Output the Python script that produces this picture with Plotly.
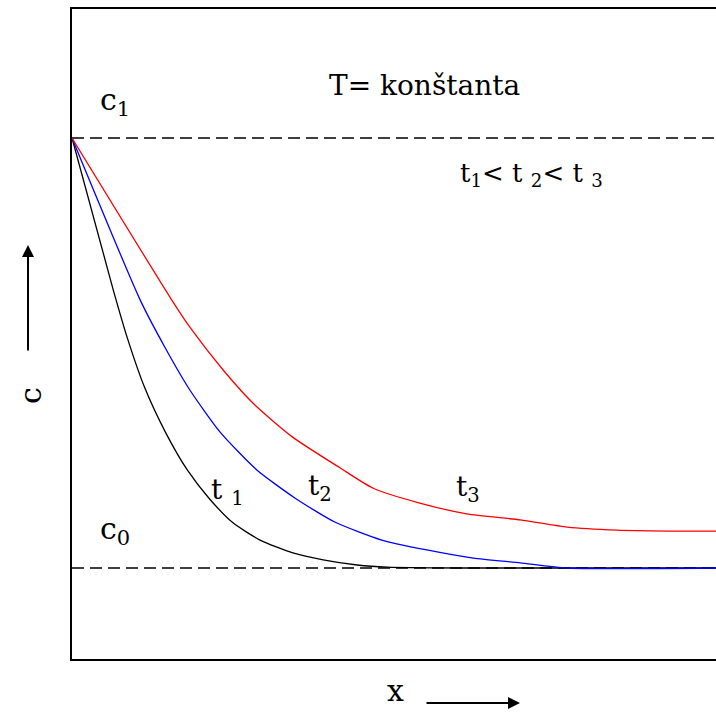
import plotly.graph_objects as go

# Concentration profiles c(x) at constant temperature for three times t1 < t2 < t3
x_t1 = [0, 0.64, 0.87, 1.13, 1.45, 1.79, 2.14, 2.50, 2.92, 3.43, 3.90, 4.43, 4.90, 6.0, 10.0]
c_t1 = [1.0, 0.647, 0.530, 0.419, 0.316, 0.228, 0.160, 0.105, 0.065, 0.035, 0.019, 0.007, 0.002, 0.0, 0.0]

x_t2 = [0, 1.06, 1.44, 1.83, 2.30, 2.87, 3.46, 4.08, 4.81, 5.51, 6.23, 6.96, 7.69, 10.0]
c_t2 = [1.0, 0.623, 0.514, 0.414, 0.316, 0.228, 0.163, 0.107, 0.065, 0.042, 0.023, 0.012, 0.0, 0.0]

x_t3 = [0, 1.55, 1.83, 2.35, 2.84, 3.42, 4.16, 4.67, 5.40, 6.13, 6.96, 7.69, 8.46, 9.24, 10.0]
c_t3 = [1.0, 0.623, 0.560, 0.460, 0.379, 0.305, 0.233, 0.186, 0.151, 0.126, 0.112, 0.095, 0.088, 0.086, 0.086]

# boundary concentrations
c_levels = [1.0, 0.0]
x_span = [0, 10.0]

FONT = "DejaVu Serif"

fig = go.Figure()

for lvl in c_levels:
    fig.add_trace(go.Scatter(x=x_span, y=[lvl, lvl], mode="lines",
                             line=dict(color="black", width=1.5, dash="12px,6px"),
                             hoverinfo="skip"))

for xs, cs, col in [(x_t1, c_t1, "black"), (x_t2, c_t2, "blue"), (x_t3, c_t3, "red")]:
    fig.add_trace(go.Scatter(x=xs, y=cs, mode="lines",
                             line=dict(color=col, width=1.3, shape="spline", smoothing=0.6)))

ann = []

def txt(x, y, s, size=30, xref="x", yref="y", **kw):
    ann.append(dict(x=x, y=y, xref=xref, yref=yref, text=s, showarrow=False,
                    font=dict(family=FONT, size=size, color="black"), **kw))

txt(5.47, 1.121, "T= konštanta", size=28)
txt(0.40, 1.085, "c<sub>1</sub>", size=30, xanchor="left")
txt(7.13, 0.914, "t<sub>1</sub>< t <sub>2</sub>< t <sub>3</sub>", size=26)
txt(0.40, 0.088, "c<sub>0</sub>", size=30, xanchor="left")
txt(2.42, 0.177, "t <sub>1</sub>", size=28)
txt(3.85, 0.188, "t<sub>2</sub>", size=28)
txt(6.15, 0.186, "t<sub>3</sub>", size=28)

# axis labels with arrows
txt(-0.095, 0.405, "c", size=30, xref="paper", yref="paper", textangle=-90)
txt(0.503, -0.078, "x", size=30, xref="paper", yref="paper")

ann.append(dict(x=-0.0683, y=0.637, xref="paper", yref="paper", ax=0, ay=107,
                text="", showarrow=True, arrowhead=2, arrowsize=1.2,
                arrowwidth=2, arrowcolor="black"))
ann.append(dict(x=0.6957, y=-0.0677, xref="paper", yref="paper", ax=-95, ay=0,
                text="", showarrow=True, arrowhead=2, arrowsize=1.2,
                arrowwidth=2, arrowcolor="black"))

fig.update_layout(
    width=716, height=714,
    margin=dict(l=72, r=0, t=9, b=55),
    paper_bgcolor="white", plot_bgcolor="white",
    showlegend=False,
    annotations=ann,
    font=dict(family=FONT),
    xaxis=dict(range=[0, 10], showgrid=False, zeroline=False, showticklabels=False,
               ticks="", showline=True, linecolor="black", linewidth=2, mirror=True),
    yaxis=dict(range=[-0.2116, 1.3], showgrid=False, zeroline=False, showticklabels=False,
               ticks="", showline=True, linecolor="black", linewidth=2),
)

fig.write_html("out.html")
